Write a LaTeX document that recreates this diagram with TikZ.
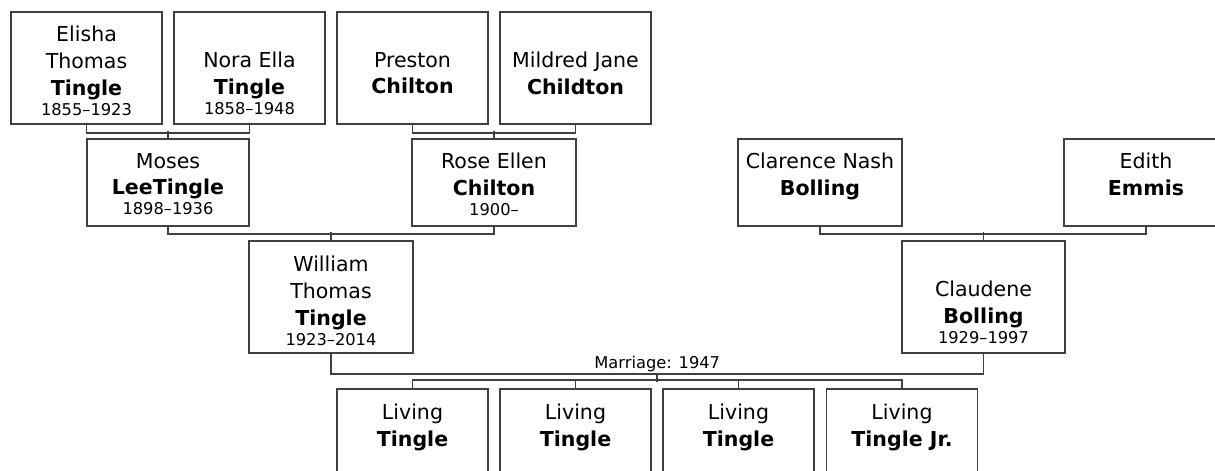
\documentclass[tikz,border=0pt]{standalone}
\usepackage{fontspec}
\setmainfont{DejaVu Sans}
\usetikzlibrary{positioning, calc}

\begin{document}
\begin{tikzpicture}[x=0.75pt, y=-0.75pt,
    person/.style={draw=black!75, line width=1.4pt, inner sep=0pt, minimum width=151*0.75pt, minimum height=112*0.75pt},
    short/.style={minimum height=87*0.75pt},
    wide/.style={minimum width=164*0.75pt},
    who/.style={align=center, inner sep=0pt, anchor=north, font=\fontsize{15.4}{20}\selectfont},
    link/.style={draw=black!75, line width=1.4pt}
]
    \clip (0,0) rectangle (1215,471);

    % grandparents
    \node[person] (elisha) at (86.5,68) {};
    \node[person] (nora) at (249.5,68) {};
    \node[person] (preston) at (412.5,68) {};
    \node[person] (mildred) at (575.5,68) {};
    \node[who] (elisha-t) at (86.5,26) {Elisha\\Thomas\\\textbf{Tingle}\\[-5pt]{\fontsize{12.2}{14}\selectfont 1855–1923}};
    \node[who] (nora-t) at (249.5,52) {Nora Ella\\\textbf{Tingle}\\[-5pt]{\fontsize{12.2}{14}\selectfont 1858–1948}};
    \node[who] (preston-t) at (412.5,52) {Preston\\\textbf{Chilton}};
    \node[who] (mildred-t) at (575.5,52) {Mildred Jane\\\textbf{Childton}};

    % parents
    \node[person, short, minimum width=162*0.75pt] (moses) at (168,182.5) {};
    \node[person, short, wide] (rose) at (494,182.5) {};
    \node[person, short, wide] (clarence) at (820,182.5) {};
    \node[person, short, wide] (edith) at (1146,182.5) {};
    \node[who] (moses-t) at (168,153) {Moses\\\textbf{LeeTingle}\\[-5pt]{\fontsize{12.2}{14}\selectfont 1898–1936}};
    \node[who] (rose-t) at (494,153) {Rose Ellen\\\textbf{Chilton}\\[-5pt]{\fontsize{12.2}{14}\selectfont 1900–}};
    \node[who] (clarence-t) at (820,153) {Clarence Nash\\\textbf{Bolling}};
    \node[who] (edith-t) at (1146,153) {Edith\\\textbf{Emmis}};

    % couple
    \node[person, wide] (william) at (331,297) {};
    \node[person, wide, minimum width=163*0.75pt] (claudene) at (983.5,297) {};
    \node[who] (william-t) at (331,256) {William\\Thomas\\\textbf{Tingle}\\[-5pt]{\fontsize{12.2}{14}\selectfont 1923–2014}};
    \node[who] (claudene-t) at (983.5,281) {Claudene\\\textbf{Bolling}\\[-5pt]{\fontsize{12.2}{14}\selectfont 1929–1997}};

    % children
    \node[person] (kid1) at (412.5,445) {};
    \node[person] (kid2) at (575.5,445) {};
    \node[person] (kid3) at (738.5,445) {};
    \node[person] (kid4) at (902,445) {};
    \node[who] (kid1-t) at (412.5,404) {Living\\\textbf{Tingle}};
    \node[who] (kid2-t) at (575.5,404) {Living\\\textbf{Tingle}};
    \node[who] (kid3-t) at (738.5,404) {Living\\\textbf{Tingle}};
    \node[who] (kid4-t) at (902,404) {Living\\\textbf{Tingle Jr.}};

    \draw[link] (elisha.south) -- ++(0,8) -| (nora.south);
    \draw[link] (moses.north) -- ++(0,-7);
    \draw[link] (preston.south) -- ++(0,8) -| (mildred.south);
    \draw[link] (rose.north) -- ++(0,-7);
    \draw[link] (moses.south) -- ++(0,7) -| (rose.south);
    \draw[link] (william.north) -- ++(0,-8);
    \draw[link] (clarence.south) -- ++(0,7) -| (edith.south);
    \draw[link] (claudene.north) -- ++(0,-8);

    % marriage
    \draw[link] (william.south) -- ++(0,20) -| (claudene.south);
    \coordinate (wed) at ($(william.south)!0.5!(claudene.south)+(0,20)$);
    \node[anchor=south, inner sep=1.5pt, font=\fontsize{12.2}{14}\selectfont] (marriage) at (wed) {Marriage: 1947};
    \draw[link] (wed) -- ++(0,8);
    \draw[link] (kid1.north) -- ++(0,-8) -| (kid4.north);
    \draw[link] (kid2.north) -- ++(0,-8);
    \draw[link] (kid3.north) -- ++(0,-8);
\end{tikzpicture}
\end{document}
